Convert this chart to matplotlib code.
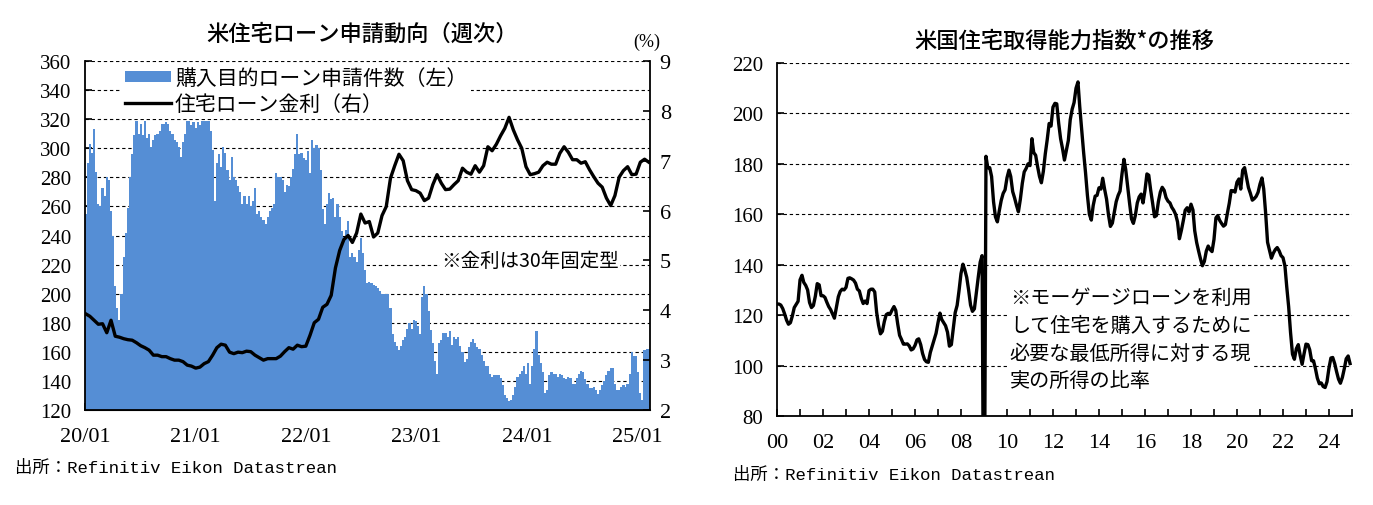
import numpy as np
import pandas as pd
import matplotlib
matplotlib.use("Agg")
import matplotlib.pyplot as plt

jp = 'Noto Sans CJK JP'
num = 'Liberation Serif'
plt.rcParams['font.family'] = [jp, 'DejaVu Sans']

# ---- left chart: weekly purchase applications (index) and 30y mortgage rate (%)
apps = [255, 290, 303, 297, 313, 284, 262, 260, 273, 267,
        280, 278, 257, 240, 205, 190, 182, 200, 225, 242,
        259, 280, 296, 309, 319, 310, 317, 309, 319, 307,
        310, 301, 306, 309, 310, 312, 317, 317, 318, 317,
        312, 310, 306, 304, 301, 294, 304, 310, 319, 319,
        316, 318, 314, 318, 316, 319, 319, 319, 319, 312,
        299, 264, 290, 296, 287, 301, 297, 285, 278, 294,
        280, 278, 274, 270, 262, 267, 262, 267, 260, 264,
        273, 255, 257, 253, 251, 248, 253, 257, 259, 262,
        283, 280, 280, 278, 270, 275, 274, 280, 286, 296,
        310, 296, 297, 293, 292, 298, 283, 306, 300, 302,
        300, 285, 258, 248, 262, 269, 265, 266, 253, 262,
        253, 243, 239, 244, 250, 225, 228, 225, 222, 230,
        238, 228, 216, 207, 208, 207, 206, 205, 204, 202,
        200, 200, 200, 200, 190, 172, 167, 164, 161, 164,
        168, 170, 176, 180, 176, 182, 181, 178, 172, 198,
        205, 200, 188, 175, 166, 154, 145, 166, 168, 173,
        173, 170, 174, 165, 170, 169, 170, 164, 160, 153,
        155, 163, 167, 169, 166, 163, 162, 158, 154, 150,
        150, 145, 143, 144, 144, 144, 142, 137, 130, 128,
        126, 127, 130, 136, 143, 145, 147, 150, 145, 152,
        138, 150, 162, 174, 158, 152, 146, 132, 134, 144,
        146, 145, 145, 143, 145, 144, 142, 141, 143, 142,
        138, 138, 142, 145, 147, 146, 141, 138, 135, 135,
        136, 134, 131, 134, 137, 140, 144, 147, 149, 149,
        138, 134, 134, 136, 137, 136, 138, 145, 160, 157,
        157, 146, 132, 127, 161, 162, 162]

# every other week
rate = [3.93, 3.88, 3.80, 3.72, 3.73, 3.55, 3.80, 3.48, 3.46, 3.43,
        3.41, 3.40, 3.35, 3.29, 3.25, 3.20, 3.10, 3.10, 3.07, 3.07,
        3.03, 3.00, 3.00, 2.97, 2.90, 2.88, 2.84, 2.86, 2.93, 2.97,
        3.10, 3.25, 3.32, 3.30, 3.16, 3.13, 3.16, 3.15, 3.18, 3.17,
        3.10, 3.05, 3.00, 3.03, 3.03, 3.03,
        3.08, 3.17, 3.25, 3.22, 3.30, 3.27, 3.28, 3.50, 3.75, 3.82,
        4.06, 4.12, 4.30, 4.85, 5.20, 5.42, 5.50, 5.36, 5.55, 5.93,
        5.75, 5.78, 5.47, 5.55, 5.90, 6.08, 6.65, 6.90, 7.13, 7.00,
        6.60, 6.42, 6.40, 6.35, 6.20, 6.25, 6.52, 6.72, 6.55, 6.42,
        6.43, 6.52, 6.60, 6.85, 6.77, 6.73,
        6.90, 6.77, 6.90, 7.28, 7.20, 7.33, 7.50, 7.65, 7.87, 7.62,
        7.42, 7.25, 6.88, 6.72, 6.74, 6.77, 6.90, 6.97, 6.93, 6.93,
        7.15, 7.28, 7.17, 7.02, 7.02, 6.95, 6.98, 6.82, 6.68, 6.55,
        6.47, 6.25, 6.10, 6.30, 6.67, 6.80, 6.88, 6.72, 6.73, 6.97,
        7.03, 6.97]

left_xticks = ['2020-01-01', '2021-01-01', '2022-01-01', '2023-01-01', '2024-01-01', '2025-01-01']
left_xlabels = ['20/01', '21/01', '22/01', '23/01', '24/01', '25/01']

# ---- right chart: monthly affordability index (2000/01 - 2024/12)
afford = [124.4, 124.4, 124, 122.6, 120.5, 118, 116.4, 117, 119.7, 123,
          124.3, 125.5, 134, 135.8, 133, 131.8, 130, 125, 123, 123.8,
          127.5, 132.5, 132, 127.7, 127.7, 127, 125.2, 123.4, 122.2, 120.5,
          118.8, 123, 127.3, 129.4, 130.3, 130, 131, 134.6, 134.8, 134.4,
          133.9, 132.7, 130.3, 129.6, 126.6, 124.6, 125.6, 124.6, 129.7, 130.3,
          130.3, 129.2, 121.2, 116, 112.6, 113.6, 117.5, 120.2, 120.7, 120.4,
          122, 123.4, 121.9, 116.5, 112, 110.3, 108.5, 108.5, 108.6, 107.8,
          106.2, 106.6, 108, 110.2, 110.6, 108.3, 104.8, 102.4, 101.5, 101.3,
          105.2, 107.7, 110.3, 112.8, 117, 120.8, 118.3, 117, 115.8, 113.2,
          107.7, 108.3, 114.6, 121, 123.9, 129.7, 136.5, 140.2, 138, 135,
          130, 124, 121.5, 122.5, 129, 135, 141, 143.6, 0, 183,
          178.5, 178.5, 175, 165, 159, 157, 161.5, 165.5, 168.3, 169.7,
          174.5, 177.5, 175, 169, 166.5, 163.5, 161, 166, 172.3, 176.8,
          178.2, 180, 179.3, 190, 184.5, 183.4, 179, 175, 172.5, 177,
          184, 189.5, 196, 195, 202.5, 204, 203.8, 196, 190, 186,
          181.5, 185.5, 189.3, 197.5, 201.7, 204.3, 210, 212.5, 202.7, 193.3,
          184.7, 176.5, 167.5, 160, 157.7, 163.5, 167.2, 167.5, 170.5, 170,
          174.3, 169.8, 166, 159.7, 155.2, 156.5, 160.7, 165, 167.5, 169.2,
          176, 181.8, 177.8, 171, 164.5, 158.2, 156.4, 159.5, 164.5, 166.9,
          168, 164.5, 169.5, 176, 175.5, 169.5, 164.5, 159, 159.5, 165,
          168.8, 170.7, 169.5, 166.6, 165.2, 164.5, 162.8, 161.6, 160, 157,
          150.3, 153.6, 157.5, 161.6, 162.6, 160.9, 164, 161.7, 153.5, 148.8,
          145.5, 142.3, 139.6, 141.3, 145.4, 147.4, 146, 145.2, 150, 158.6,
          159.5, 157.6, 156.4, 155.3, 155.9, 160.3, 164.4, 169.4, 169.3, 168.8,
          172.7, 174, 170, 177.5, 178.5, 174.5, 170.6, 168.3, 165.6, 166.2,
          167.1, 168.7, 172, 174.4, 170, 160.3, 148.9, 145.7, 142.6, 144.6,
          146, 146.8, 145.5, 143.6, 142.8, 139.5, 131.4, 123.3, 113.1, 104.5,
          102.5, 106.7, 108.3, 104, 100.5, 104.6, 108.5, 108.3, 106.3, 101.9,
          101.9, 98.7, 95, 92.8, 93.1, 91.7, 91.3, 93.6, 99, 103,
          103.2, 100.8, 97.6, 94.6, 93, 95.3, 98.8, 102.7, 103.8, 100.8]

right_years = list(range(2000, 2026))

week = pd.date_range('2020-01-03', periods=len(apps), freq='7D')
rate_dates = week[::2]
months = pd.date_range('2000-01-01', periods=len(afford), freq='MS')

grid_kw = dict(color='black', linestyle=(0, (3, 2.5)), linewidth=0.8)
blue = '#558ED5'

fig = plt.figure(figsize=(13.73, 5.06), dpi=100)

# ================= left =================
ax = fig.add_axes([85/1373, 95/506, 565/1373, 349/506])
bars = ax.bar(week, apps, width=7.4, color=blue, linewidth=0, zorder=2)
ax.set_ylim(120, 360)
ax.set_yticks(range(120, 361, 20))
ax.set_xlim(pd.Timestamp('2020-01-01'), pd.Timestamp('2025-02-11'))
ax.set_xticks(pd.to_datetime(left_xticks))
ax.set_xticklabels(left_xlabels)
ax.yaxis.grid(True, **grid_kw)
ax.set_axisbelow(True)
ax.tick_params(axis='y', direction='in', length=5, width=1.2, pad=10,
               labelsize=15, labelfontfamily=num)
ax.tick_params(axis='x', direction='in', length=5, width=1.2, pad=12,
               labelsize=16, labelfontfamily=num)
for s in ['top', 'right']:
    ax.spines[s].set_visible(False)
for s in ['left', 'bottom']:
    ax.spines[s].set_linewidth(1.3)

ax2 = ax.twinx()
line, = ax2.plot(rate_dates, rate, color='black', lw=2.4)
ax2.set_ylim(2, 9)
ax2.set_yticks(range(2, 10))
ax2.tick_params(axis='y', direction='in', length=5, width=1.2, pad=7,
                labelsize=16, labelfontfamily=num)
ax2.spines['top'].set_visible(False)
ax2.spines['left'].set_visible(False)
ax2.spines['right'].set_linewidth(1.3)
ax2.annotate('(%)', xy=(1, 1), xycoords='axes fraction', xytext=(-2, 8),
             textcoords='offset points', ha='center', va='bottom',
             fontsize=13, family=num)

ax.set_title('米住宅ローン申請動向（週次）', fontsize=16, pad=15, x=0.49,
             fontweight='medium')
leg = ax2.legend([bars, line], ['購入目的ローン申請件数（左）', '住宅ローン金利（右）'],
                 loc='upper left', bbox_to_anchor=(0.045, 1.025), fontsize=15,
                 frameon=True, facecolor='white', edgecolor='none', framealpha=1,
                 fancybox=False, handlelength=2.2, handleheight=0.5,
                 handletextpad=0.2, labelspacing=0.2, borderpad=0.2)
ax2.text(0.788, 0.427, '※金利は30年固定型', transform=ax2.transAxes,
         ha='center', va='center', fontsize=14,
         bbox=dict(facecolor='white', edgecolor='none', pad=1))

fig.text(15/1373, 1 - 468/506, '出所：Refinitiv Eikon Datastrean',
         family=['Liberation Mono', jp], fontsize=12.5, va='center')

# ================= right =================
ax3 = fig.add_axes([777/1373, 89/506, 575/1373, 353/506])
ax3.plot(months, afford, color='black', lw=2.4)
ax3.set_ylim(80, 220)
ax3.set_yticks(range(80, 221, 20))
ax3.set_xlim(pd.Timestamp('2000-01-01'), pd.Timestamp('2025-01-01'))
ax3.set_xticks(pd.to_datetime([f'{y}-01-01' for y in right_years]))
ax3.set_xticklabels([f'{y % 100:02d}' if y % 2 == 0 and y < 2025 else '' for y in right_years])
ax3.yaxis.grid(True, **grid_kw)
ax3.set_axisbelow(True)
ax3.tick_params(axis='y', direction='in', length=5, width=1.2, pad=10,
                labelsize=15, labelfontfamily=num)
ax3.tick_params(axis='x', direction='in', length=5, width=1.2, pad=12,
                labelsize=16, labelfontfamily=num)
for s in ['top', 'right']:
    ax3.spines[s].set_visible(False)
for s in ['left', 'bottom']:
    ax3.spines[s].set_linewidth(1.3)
ax3.set_title('米国住宅取得能力指数*の推移', fontsize=16, pad=12, fontweight='medium')
ax3.text(0.405, 0.365, '※モーゲージローンを利用\nして住宅を購入するために\n必要な最低所得に対する現\n実の所得の比率',
         transform=ax3.transAxes, ha='left', va='top', fontsize=14.5, linespacing=1.42,
         bbox=dict(facecolor='white', edgecolor='none', pad=2))

fig.text(733/1373, 1 - 475/506, '出所：Refinitiv Eikon Datastrean',
         family=['Liberation Mono', jp], fontsize=12.5, va='center')

fig.savefig('out.png', dpi=100)
